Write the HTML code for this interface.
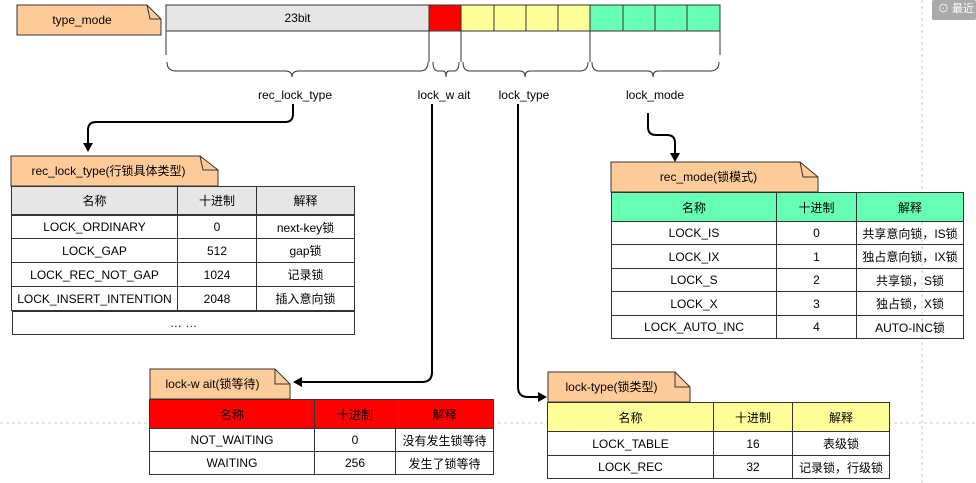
<!DOCTYPE html>
<html><head><meta charset="utf-8"><style>
body{margin:0;width:976px;height:483px;background:#fff;position:relative;overflow:hidden;font-family:"Liberation Sans","Noto Sans CJK SC",sans-serif;font-size:12px;color:#000}
.a{position:absolute;box-sizing:border-box}
.c{position:absolute;box-sizing:border-box;border:1px solid #333;display:flex;align-items:center;justify-content:center;white-space:nowrap}
</style></head><body>
<svg class="a" style="left:0;top:0" width="976" height="483">
<line x1="922" y1="0" x2="922" y2="483" stroke="#ccc" stroke-dasharray="3,3"/>
<line x1="0" y1="423" x2="976" y2="423" stroke="#ccc" stroke-dasharray="3,3"/>
<path d="M17 5H147L161 19V35H17Z" fill="#ffcc99" stroke="#333"/>
<path d="M147 5L150 19H161" fill="none" stroke="#333"/>
<path d="M11 156H200L218 170V186H11Z" fill="#ffcc99" stroke="#333"/>
<path d="M200 156L203 170H218" fill="none" stroke="#333"/>
<path d="M611 162H800L818 177V192H611Z" fill="#ffcc99" stroke="#333"/>
<path d="M800 162L803 177H818" fill="none" stroke="#333"/>
<path d="M150 369H275L290 384V399H150Z" fill="#ffcc99" stroke="#333"/>
<path d="M275 369V384H290" fill="none" stroke="#333"/>
<path d="M548 372H675L690 387V402H548Z" fill="#ffcc99" stroke="#333"/>
<path d="M675 372V387H690" fill="none" stroke="#333"/>
<rect x="166" y="5" width="263" height="26" fill="#e6e6e6" stroke="#333"/>
<rect x="429" y="5" width="32" height="26" fill="#ff0000" stroke="#333"/>
<rect x="461" y="5" width="33" height="26" fill="#ffff99" stroke="#333"/>
<rect x="494" y="5" width="32" height="26" fill="#ffff99" stroke="#333"/>
<rect x="526" y="5" width="32" height="26" fill="#ffff99" stroke="#333"/>
<rect x="558" y="5" width="32" height="26" fill="#ffff99" stroke="#333"/>
<rect x="590" y="5" width="33" height="26" fill="#66ffb3" stroke="#333"/>
<rect x="623" y="5" width="32" height="26" fill="#66ffb3" stroke="#333"/>
<rect x="655" y="5" width="32" height="26" fill="#66ffb3" stroke="#333"/>
<rect x="687" y="5" width="33" height="26" fill="#66ffb3" stroke="#333"/>
<g stroke="#333" fill="none" stroke-width="1">
<path d="M166 31V55M429 31V62M461 31V62M590 31V62M720 31V55"/>
<path d="M167 62Q167 71 176 71H285Q292 71 292 77Q292 71 299 71H420Q428 71 428 62"/>
<path d="M433 62Q433 71 438 71H443Q446 71 446 77Q446 71 449 71H454Q459 71 459 62"/>
<path d="M463 62Q463 71 470 71H520Q525 71 525 77Q525 71 530 71H580Q588 71 588 62"/>
<path d="M592 62Q592 71 599 71H648Q653 71 653 77Q653 71 658 71H710Q719 71 719 62"/>
</g>
<g stroke="#000" stroke-width="2" fill="none">
<path d="M293 104V114Q293 122 285 122H96Q88 122 88 130V145"/>
<path d="M432 104V372Q432 382 422 382H300"/>
<path d="M518 104V387Q518 397 528 397H540"/>
<path d="M648 113V127Q648 135 656 135H667Q675 135 675 143V155"/>
</g>
<path d="M88 152L83 143H93Z M293 382L302 377V387Z M547 397L538 392V402Z M675 162L670 153H680Z" fill="#000"/>
</svg>
<div class="a" style="left:17px;top:5px;width:130px;height:30px;line-height:30px;text-align:center">type_mode</div>
<div class="a" style="left:166px;top:5px;width:263px;height:26px;line-height:26px;text-align:center">23bit</div>
<div class="a" style="left:235px;top:88px;width:120px;text-align:center">rec_lock_type</div>
<div class="a" style="left:404px;top:88px;width:80px;text-align:center">lock_w ait</div>
<div class="a" style="left:484px;top:88px;width:80px;text-align:center">lock_type</div>
<div class="a" style="left:615px;top:88px;width:80px;text-align:center">lock_mode</div>
<div class="a" style="left:932px;top:0;width:44px;height:20px;background:#aaa;color:#fff;font-size:11px;line-height:18px;padding-left:6px;border-radius:2px">⊙ 最近</div>

<div class="a" style="left:11px;top:156px;width:195px;height:30px;line-height:30px;text-align:center">rec_lock_type(行锁具体类型)</div>
<div class="a" style="left:611px;top:162px;width:195px;height:30px;line-height:30px;text-align:center">rec_mode(锁模式)</div>
<div class="a" style="left:150px;top:369px;width:125px;height:30px;line-height:30px;text-align:center">lock-w ait(锁等待)</div>
<div class="a" style="left:548px;top:372px;width:127px;height:30px;line-height:30px;text-align:center">lock-type(锁类型)</div>

<div class="c" style="left:11px;top:186px;width:167px;height:29px;background:#e6e6e6">名称</div>
<div class="c" style="left:177px;top:186px;width:80px;height:29px;background:#e6e6e6">十进制</div>
<div class="c" style="left:256px;top:186px;width:99px;height:29px;background:#e6e6e6">解释</div>
<div class="c" style="left:11px;top:215px;width:167px;height:24px">LOCK_ORDINARY</div><div class="c" style="left:177px;top:215px;width:80px;height:24px">0</div><div class="c" style="left:256px;top:215px;width:99px;height:24px">next-key锁</div>
<div class="c" style="left:11px;top:238px;width:167px;height:25px">LOCK_GAP</div><div class="c" style="left:177px;top:238px;width:80px;height:25px">512</div><div class="c" style="left:256px;top:238px;width:99px;height:25px">gap锁</div>
<div class="c" style="left:11px;top:262px;width:167px;height:25px">LOCK_REC_NOT_GAP</div><div class="c" style="left:177px;top:262px;width:80px;height:25px">1024</div><div class="c" style="left:256px;top:262px;width:99px;height:25px">记录锁</div>
<div class="c" style="left:11px;top:286px;width:167px;height:25px">LOCK_INSERT_INTENTION</div><div class="c" style="left:177px;top:286px;width:80px;height:25px">2048</div><div class="c" style="left:256px;top:286px;width:99px;height:25px">插入意向锁</div>
<div class="c" style="left:12px;top:311px;width:343px;height:24px">… …</div>

<div class="c" style="left:611px;top:192px;width:166px;height:30px;background:#66ffb3">名称</div>
<div class="c" style="left:776px;top:192px;width:81px;height:30px;background:#66ffb3">十进制</div>
<div class="c" style="left:856px;top:192px;width:108px;height:30px;background:#66ffb3">解释</div>
<div class="c" style="left:611px;top:221px;width:166px;height:24px">LOCK_IS</div><div class="c" style="left:776px;top:221px;width:81px;height:24px">0</div><div class="c" style="left:856px;top:221px;width:108px;height:24px">共享意向锁，IS锁</div>
<div class="c" style="left:611px;top:244px;width:166px;height:25px">LOCK_IX</div><div class="c" style="left:776px;top:244px;width:81px;height:25px">1</div><div class="c" style="left:856px;top:244px;width:108px;height:25px">独占意向锁，IX锁</div>
<div class="c" style="left:611px;top:268px;width:166px;height:24px">LOCK_S</div><div class="c" style="left:776px;top:268px;width:81px;height:24px">2</div><div class="c" style="left:856px;top:268px;width:108px;height:24px">共享锁，S锁</div>
<div class="c" style="left:611px;top:291px;width:166px;height:25px">LOCK_X</div><div class="c" style="left:776px;top:291px;width:81px;height:25px">3</div><div class="c" style="left:856px;top:291px;width:108px;height:25px">独占锁，X锁</div>
<div class="c" style="left:611px;top:315px;width:166px;height:24px">LOCK_AUTO_INC</div><div class="c" style="left:776px;top:315px;width:81px;height:24px">4</div><div class="c" style="left:856px;top:315px;width:108px;height:24px">AUTO-INC锁</div>

<div class="c" style="left:149px;top:399px;width:166px;height:30px;background:#ff0000">名称</div>
<div class="c" style="left:314px;top:399px;width:82px;height:30px;background:#ff0000">十进制</div>
<div class="c" style="left:395px;top:399px;width:99px;height:30px;background:#ff0000">解释</div>
<div class="c" style="left:149px;top:428px;width:166px;height:24px">NOT_WAITING</div><div class="c" style="left:314px;top:428px;width:82px;height:24px">0</div><div class="c" style="left:395px;top:428px;width:99px;height:24px">没有发生锁等待</div>
<div class="c" style="left:149px;top:451px;width:166px;height:24px">WAITING</div><div class="c" style="left:314px;top:451px;width:82px;height:24px">256</div><div class="c" style="left:395px;top:451px;width:99px;height:24px">发生了锁等待</div>

<div class="c" style="left:547px;top:402px;width:167px;height:30px;background:#ffff99">名称</div>
<div class="c" style="left:713px;top:402px;width:80px;height:30px;background:#ffff99">十进制</div>
<div class="c" style="left:792px;top:402px;width:98px;height:30px;background:#ffff99">解释</div>
<div class="c" style="left:547px;top:431px;width:167px;height:25px">LOCK_TABLE</div><div class="c" style="left:713px;top:431px;width:80px;height:25px">16</div><div class="c" style="left:792px;top:431px;width:98px;height:25px">表级锁</div>
<div class="c" style="left:547px;top:455px;width:167px;height:24px">LOCK_REC</div><div class="c" style="left:713px;top:455px;width:80px;height:24px">32</div><div class="c" style="left:792px;top:455px;width:98px;height:24px">记录锁，行级锁</div>
</body></html>
